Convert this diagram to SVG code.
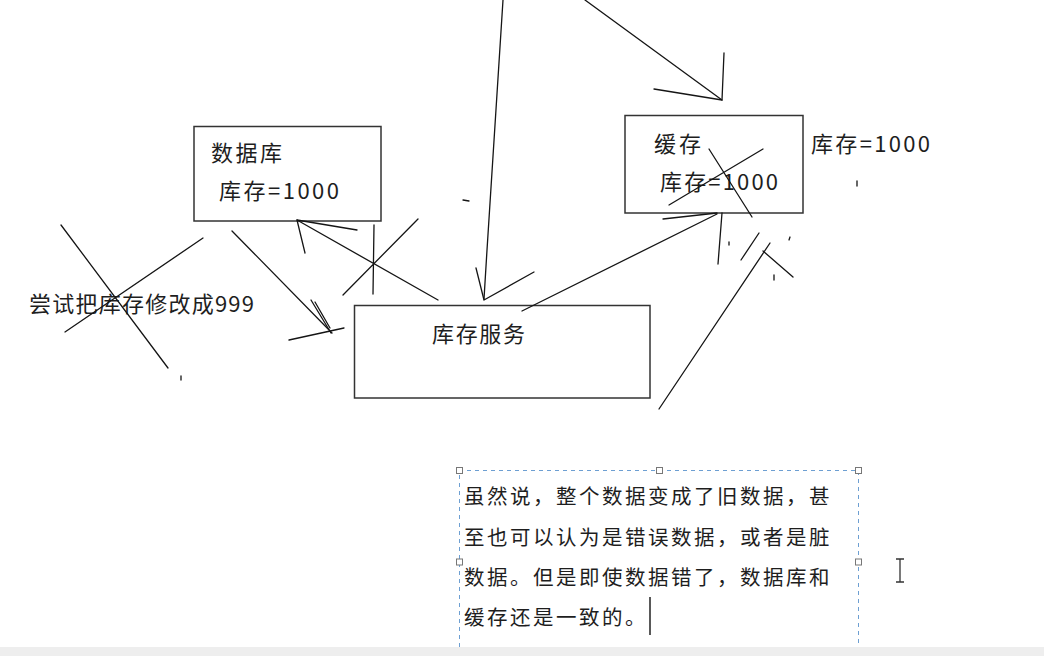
<svg xmlns="http://www.w3.org/2000/svg" width="1044" height="656" viewBox="0 0 1044 656">
<style>
.box{fill:#fff;stroke:#333;stroke-width:1.5}
.ln{fill:none;stroke:#151515;stroke-width:1.3;stroke-linecap:round;stroke-linejoin:round}
.lbl{font-family:"Noto Sans CJK SC","Microsoft YaHei",sans-serif;font-size:22px;fill:#1e1e1e}
.note{font-family:"Noto Sans CJK SC","Microsoft YaHei",sans-serif;font-size:20.5px;fill:#1e1e1e;letter-spacing:2.5px}
.sel{fill:none;stroke:#6d9fd2;stroke-width:1;stroke-dasharray:4 4}
.hdl{fill:#fff;stroke:#777;stroke-width:1}
</style>
<rect width="1044" height="656" fill="#fff"/>
<rect x="0" y="647" width="1044" height="9" fill="#eeeeee"/>

<g id="db">
<rect class="box" x="194" y="126.5" width="187" height="94.5"/>
<text class="lbl" x="211" y="161" textLength="71" lengthAdjust="spacing">数据库</text>
<text class="lbl" x="219" y="199" textLength="120" lengthAdjust="spacing">库存=1000</text>
</g>

<g id="cache">
<rect class="box" x="625" y="115.5" width="178" height="97.5"/>
<text class="lbl" x="654" y="152" textLength="47" lengthAdjust="spacing">缓存</text>
<text class="lbl" x="660" y="190" textLength="118" lengthAdjust="spacing">库存=1000</text>
</g>

<g id="cache-new-value">
<text class="lbl" x="811" y="152" textLength="119" lengthAdjust="spacing">库存=1000</text>
</g>

<g id="service">
<rect class="box" x="354.5" y="305.5" width="295.5" height="92.5"/>
<text class="lbl" x="432" y="342" textLength="93" lengthAdjust="spacing">库存服务</text>
</g>

<g id="attempt">
<text class="lbl" x="29" y="312" textLength="225" lengthAdjust="spacing">尝试把库存修改成999</text>
</g>

<g id="connectors">
<path class="ln" d="M503,0 L487,250 L484,299"/>
<path class="ln" d="M476,268 L484,300 L534,272"/>
<path class="ln" d="M585,0 L722,100"/>
<path class="ln" d="M724,53 L722,100 L654,89"/>
<path class="ln" d="M438,300 L297,220"/>
<path class="ln" d="M305,253 L297,220 L357,230"/>
<path class="ln" d="M374,225 L373,294 M418,219 L343,295"/>
<path class="ln" d="M232,231 L332,333"/>
<path class="ln" d="M311,300 L331,333 M315,302 L330,328 M289,340 L344,328"/>
<path class="ln" d="M61,225 L168,368 M203,238 L65,332"/>
<path class="ln" d="M522,311 L717,214"/>
<path class="ln" d="M663,219 L717,213 M722,213 L718,264"/>
<path class="ln" d="M709,149 L752,217 M763,149 L669,205"/>
<path class="ln" d="M659,409 L770,243 M741,260 L759,233 M763,251 L793,277"/>
<path class="ln" d="M729,242 L729,245 M790,237 L789,240 M774,275 L774,280 M181,376 L181,380 M463,200 L469,201 M857,181 L857,186"/>
</g>

<g id="note">
<path class="sel" d="M459.5,647 V470.5 H858.5 V647"/>
<rect class="hdl" x="456.5" y="467.5" width="6" height="6"/>
<rect class="hdl" x="656.5" y="467.5" width="6" height="6"/>
<rect class="hdl" x="855.5" y="467.5" width="6" height="6"/>
<rect class="hdl" x="456.5" y="559" width="6" height="6"/>
<rect class="hdl" x="855.5" y="559" width="6" height="6"/>
<text class="note" x="464" y="504">虽然说，整个数据变成了旧数据，甚</text>
<text class="note" x="464" y="545">至也可以认为是错误数据，或者是脏</text>
<text class="note" x="464" y="585">数据。但是即使数据错了，数据库和</text>
<text class="note" x="464" y="625">缓存还是一致的。</text>
<path d="M650,597 V635" stroke="#222" stroke-width="1.5"/>
<path d="M900,559 V582 M896,559 H904 M896,582 H904" stroke="#333" stroke-width="1.3" fill="none"/>
</g>
</svg>
